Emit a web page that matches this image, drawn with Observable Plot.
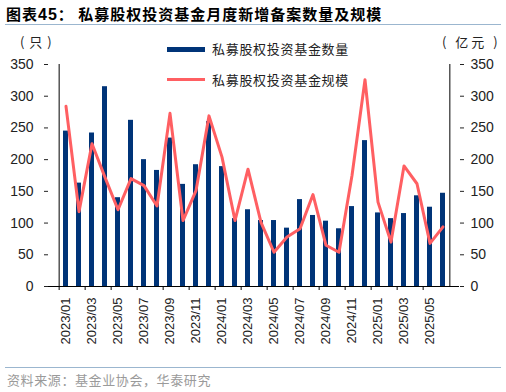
<!DOCTYPE html>
<html><head><meta charset="utf-8">
<script src="https://cdn.jsdelivr.net/npm/d3@7"></script>
<script src="https://cdn.jsdelivr.net/npm/@observablehq/plot@0.6"></script>
<style>
html,body{margin:0;padding:0;background:#fff;}
#wrap{position:relative;width:506px;height:392px;overflow:hidden;font-family:"Noto Sans CJK SC",sans-serif;}
.abs{position:absolute;white-space:nowrap;}
#title{left:6px;top:3px;font-size:15px;font-weight:bold;color:#000;letter-spacing:1px;}
#title .num{font-family:"Liberation Sans",Arial,sans-serif;font-size:16px;}
.rule{position:absolute;left:5px;width:496px;height:0;border-top:1.5px solid #9bb6cf;}
.unit{font-size:13px;color:#222;top:32px;}
.leg{font-size:13px;color:#222;letter-spacing:0.7px;}
#src{left:7px;top:370px;font-size:13px;color:#9a9a9a;letter-spacing:0.6px;}
#chart{position:absolute;left:0;top:30px;}
</style></head>
<body><div id="wrap">
<div id="title" class="abs">图表<span class="num">45</span>：&nbsp;私募股权投资基金月度新增备案数量及规模</div>
<div class="rule" style="top:24px"></div>
<div class="abs unit" style="left:20px;letter-spacing:1px">( 只 )</div>
<div class="abs unit" style="left:442px;letter-spacing:3px">( 亿元 )</div>
<div id="chart"></div>
<div class="abs" style="left:167px;top:47px;width:38px;height:5px;background:#003478"></div>
<div class="abs leg" style="left:212px;top:39px">私募股权投资基金数量</div>
<div class="abs" style="left:167px;top:78px;width:38px;height:3px;background:#ff5f62"></div>
<div class="abs leg" style="left:212px;top:70px">私募股权投资基金规模</div>
<div class="rule" style="top:367px"></div>
<div id="src" class="abs">资料来源：基金业协会，华泰研究</div>
</div>
<script>
const months = ["2023/01","2023/02","2023/03","2023/04","2023/05","2023/06","2023/07","2023/08","2023/09","2023/10","2023/11","2023/12",
"2024/01","2024/02","2024/03","2024/04","2024/05","2024/06","2024/07","2024/08","2024/09","2024/10","2024/11","2024/12",
"2025/01","2025/02","2025/03","2025/04","2025/05","2025/06"];
const counts = [245,163,242,315,140,262,200,183,234,161,192,260,189,107,121,104,104,92,137,112,103,91,126,230,116,107,115,143,125,147];
const scales = [284,118,225,172,121,170,159,127,273,104,151,269,204,104,185,101,54,78,91,145,65,54,175,326,133,70,190,162,68,94];
const tickMonths = months.filter((d,i)=>i%2===0);
const yTicks = [0,50,100,150,200,250,300,350];

const data = months.map((m,i)=>({month:m,count:counts[i],scale:scales[i]}));
const W = 506, H = 330, mL = 48, mR = 47, mT = 34, mB = 74;
const step = (W - mL - mR) / months.length;
const tickLen = 4 * 350 / (H - mT - mB);

const chart = Plot.plot({
  width: W, height: H,
  marginLeft: mL, marginRight: mR, marginTop: mT, marginBottom: mB,
  style: {fontFamily: "'Liberation Sans', Arial, sans-serif", fontSize: "14px", color: "#222", background: "transparent"},
  x: {type: "band", domain: months, padding: 0},
  y: {domain: [0, 350]},
  marks: [
    Plot.barY(data, {x: "month", y: "count", fill: "#003478", insetLeft: 4, insetRight: 4}),
    Plot.lineY(data, {x: "month", y: "scale", stroke: "#ff5f62", strokeWidth: 3, strokeLinejoin: "round"}),
    Plot.axisY({anchor: "left", ticks: yTicks, tickSize: 4, tickPadding: 11, label: null, fontSize: 14}),
    Plot.axisY({anchor: "right", ticks: yTicks, tickSize: 4, tickPadding: 7, label: null, fontSize: 14}),
    Plot.axisX({ticks: tickMonths, tickSize: 0, tickPadding: 11, tickRotate: -90, label: null, fontSize: 13}),
    Plot.ruleX(tickMonths, {x: d => d, y1: 0, y2: -tickLen, dx: -step/2, stroke: "#000"}),
    Plot.ruleX([months[0]], {x: d => d, y1: 0, y2: 350, dx: -step/2, stroke: "#000"}),
    Plot.ruleX([months[months.length-1]], {x: d => d, y1: 0, y2: 350, dx: step/2, stroke: "#000"}),
    Plot.ruleY([0], {stroke: "#000"})
  ]
});
document.getElementById("chart").appendChild(chart);
</script>
</body></html>
